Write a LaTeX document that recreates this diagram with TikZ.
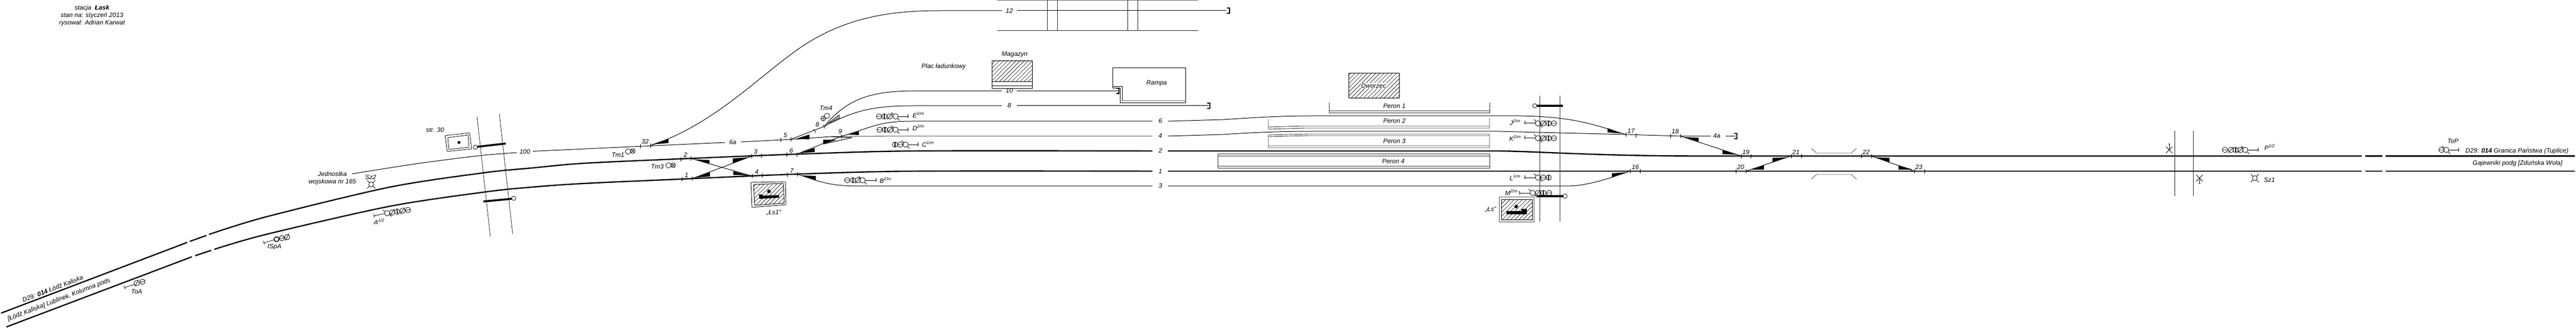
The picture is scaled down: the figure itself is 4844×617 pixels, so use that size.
\documentclass[tikz,border=0pt]{standalone}
\usepackage{fontspec}
\setmainfont{Liberation Sans}
\usetikzlibrary{arrows.meta, patterns.meta}

\tikzset{
  mainline/.style={line width=2.4pt,black},
  sideline/.style={line width=1pt,black},
  greyline/.style={line width=1.4pt,black!55},
  bridge/.style={line width=0.8pt,black!85},
  deck/.style={line width=3.6pt,black},
  switchtick/.style={line width=0.8pt},
  stem/.style={line width=0.8pt,{Bar[width=7pt,length=0pt]}-},
  endstop/.style={line width=1.3pt},
  lbl/.style={font=\fontsize{12}{14}\selectfont\itshape,inner sep=0pt,align=center},
  numlbl/.style={lbl},
  hatched/.style={pattern={Lines[angle=45,distance=5.5pt,line width=0.6pt]}},
  sigplain/.pic={\draw[line width=0.8pt] (0,0) circle (5pt);},
  sigbold/.pic={\draw[line width=1.5pt] (0,0) circle (4.6pt);},
  sigx/.pic={\draw[line width=0.8pt] (0,0) circle (5pt) (-7.5,-7.5) -- (-3.5,-3.5) (3.5,3.5) -- (7.5,7.5);},
  sigslash/.pic={\draw[line width=0.8pt] (0,0) circle (5pt) (-5,5.5) -- (5,-5.5);},
  sigvert/.pic={\draw[line width=0.8pt] (0,0) circle (5pt); \draw[line width=1.6pt] (0,-5) -- (0,5);},
  sighor/.pic={\draw[line width=0.8pt] (0,0) circle (5pt) (-5,0) -- (5,0);},
  sigcross/.pic={\draw[line width=0.8pt] (0,0) circle (4.4pt) (-3.1,-3.1) -- (3.1,3.1) (-3.1,3.1) -- (3.1,-3.1);},
  sigplus/.pic={\draw[line width=0.8pt] (0,0) circle (4.4pt) (-4.4,0) -- (4.4,0) (0,-4.4) -- (0,4.4);},
  sigfour/.pic={\draw[line width=0.8pt] (0,0) circle (4.6pt) (-7.5,-7.5) -- (-3.3,-3.3) (3.3,3.3) -- (7.5,7.5) (-7.5,7.5) -- (-3.3,3.3) (3.3,-3.3) -- (7.5,-7.5);},
}

\begin{document}
\begin{tikzpicture}[x=1pt,y=-1pt]
    \useasboundingbox (0,0) rectangle (4844,617);
    \fill[white] (0,0) rectangle (4844,617);

    % main lines
    \foreach \Xa/\Ya/\Xb/\Yb in {
      2/589/352/456, 357/454/388/443,
      12/615/361/483, 367/481/397/471,
      4448/293.5/4480/293.5, 4486/293.5/4842/293.5,
      4448/322/4480/322, 4486/322/4842/322,
      2196/322/4441/322
    }
    \draw[mainline] (\Xa,\Ya) -- (\Xb,\Yb);
    \draw[mainline] plot[smooth] coordinates {(393,441) (500,408) (733,352) (910,325) (1000,316) (1100,307) (1299,298) (1498,290) (1719,284) (2167,284)};
    \draw[mainline] plot[smooth] coordinates {(403,469) (500,441) (733,388) (913,361) (1000,352) (1100,345) (1301,336) (1499,327.5) (1719,322) (2167,322)};
    \draw[mainline] (2196,284) -- (2818,284) .. controls (2900,285) and (3000,293.5) .. (3200,293.5) -- (4441,293.5);

    % side tracks
    \draw[sideline] plot[smooth] coordinates {(662,327) (783,308) (900,293) (972,287)};
    \draw[sideline] (1002,284.5) -- (1363,268);
    \draw[sideline] (1393,267) -- (1500,261.5) -- (1561,257);
    \draw[greyline] (1561,257) -- (1668,256) -- (2167,256);
    \draw[sideline] (1223,274) .. controls (1340,235) and (1420,150) .. (1500,93) .. controls (1590,30) and (1680,20) .. (1770,20) -- (1884,20);
    \draw[sideline] (1912,20) -- (2306,20);
    \draw[sideline] (1487,262) -- (1549.5,238) .. controls (1610,205) and (1650,199) .. (1720,199) -- (1884,199);
    \draw[sideline] (1912,199) -- (2273,199);
    \draw[sideline] (1549.5,238) .. controls (1590,190) and (1630,171) .. (1719,171);
    \draw[greyline] (1719,171) -- (1884,171) (1912,171) -- (2102,171);
    \draw[sideline] (1498,290) -- (1548,270) -- (1580,257);
    \draw[sideline] (1580,257) .. controls (1640,240) and (1650,228) .. (1715,228) -- (2167,228);
    \draw[sideline] (1548,271) -- (1602,259);
    \draw[sideline] (1562,257) -- (1602,259);
    \draw[sideline] (1499,327.5) -- (1533,339) .. controls (1560,347) and (1580,350) .. (1615,350) -- (2167,350);
    \draw[sideline] (2196,350) -- (2947,350) .. controls (2980,350) and (3020,338) .. (3065,322);
    \draw[sideline] (2196,228) -- (2300,225) .. controls (2360,221) and (2410,218) .. (2466,218) -- (2818,218) .. controls (2950,216) and (2990,232) .. (3057,253);
    \draw[sideline] (2196,256) -- (2300,253) .. controls (2360,249) and (2410,247) .. (2466,247) -- (2818,247) -- (2933,250) -- (3057,253) -- (3160,256);
    \draw[greyline] (3160,256) -- (3217,256) (3245,256) -- (3264,256);
    \draw[sideline] (3160,256) -- (3274,293.5);
    \draw[sideline] (1299,298) -- (1414,331);
    \draw[sideline] (1301,336) -- (1413,294);
    \draw[sideline] (3283,322) -- (3368,293.5);
    \draw[sideline] (3519,293.5) -- (3600,322);

    % track ends
    \foreach \X/\Y in {2310/20, 2273/199, 2102/171, 3264/256}
    \draw[endstop] (\X-3,\Y-5) -- (\X+2,\Y-5) -- (\X+2,\Y+5) -- (\X-3,\Y+5);

    % switch blades
    \foreach \Xa/\Ya/\Xb/\Yb/\Xc/\Yc in {
      1225/272/1257/261/1257/269,
      1308/300/1334/301/1334/308,
      1379/322/1379/329/1407/330,
      1308/334/1335/324/1335/332,
      1378/298/1378/307/1407/296,
      1497/261/1522/253/1522/262,
      1503/288/1532/278/1532/286,
      1548/263/1548/271/1573/263,
      1594/253/1615/247/1615/254,
      1507/330/1534/331/1534/339,
      3023/241/3023/249/3050/251,
      3165/258/3194/259/3194/267,
      3239/282/3239/290/3268/291,
      3031/326/3031/333/3058/324,
      3291/319/3317/311/3317/319,
      3333/297/3333/305/3362/296,
      3526/296/3553/297/3553/305,
      3570/311/3570/319/3597/319
    }
    \fill[black] (\Xa,\Ya) -- (\Xb,\Yb) -- (\Xc,\Yc) -- cycle;
    \draw[line width=0.7pt,pattern={Lines[angle=90,distance=3pt,line width=0.7pt]}] (1557,232) -- (1578,216) -- (1579,223) -- cycle;

    % switch ticks
    \foreach \X/\Y in {
      1204/275, 1223/274, 1280/300, 1299/298, 1282/337, 1301/336,
      1413/294, 1431/293, 1414/331, 1433/330, 1468/263, 1487/262,
      1479/291, 1498/291, 1480/329, 1499/328, 1582/257,
      3057/253, 3076/255, 3141/256, 3160/256, 3065/322, 3084/322,
      3274/294, 3292/294, 3264/322, 3283/322, 3368/294, 3387/294,
      3500/294, 3519/294, 3600/322, 3619/322
    }
    \draw[switchtick] (\X,\Y-4) -- (\X,\Y+4);
    \draw[switchtick] (1530,243) -- (1534,250) (1547.5,234.5) -- (1551.5,241.5);

    % bridges
    \foreach \Xa/\Ya/\Xb/\Yb in {
      897/219/922/445, 939/214/964/440,
      2895/180/2895/417, 2933/180/2933/417,
      4089/246/4089/369, 4124/246/4124/369,
      1969/0/1969/57, 1988/0/1988/57, 2120/0/2120/57, 2139/0/2139/57
    }
    \draw[bridge] (\Xa,\Ya) -- (\Xb,\Yb);
    \draw[line width=1.2pt,black!60] (1875,0.6) -- (2253,0.6);
    \draw[bridge] (1875,57) -- (2253,57);
    \foreach \Xa/\Ya/\Xb/\Yb/\Xc/\Yc in {
      898/276/951/270/894/277,
      909/379/962/374/966/373,
      2890/199/2939/199/2886/199,
      2890/369/2939/369/2943/369
    }{
      \draw[deck] (\Xa,\Ya) -- (\Xb,\Yb);
      \draw[line width=0.8pt,fill=white] (\Xc,\Yc) circle (4pt);
    }

    % buildings
    \draw[line width=0.8pt] (837,255) -- (883,250) -- (887,280) -- (841,285) -- cycle;
    \draw[line width=0.8pt] (842,259) -- (880,254) -- (882,277) -- (844,281) -- cycle;
    \fill (863,268) circle (2.8pt);
    \draw[line width=0.9pt] (1412,343) -- (1477,342) -- (1478,385) -- (1414,390) -- cycle;
    \draw[line width=0.9pt,hatched] (1417,347) -- (1473,345) -- (1475,382) -- (1419,386) -- cycle;
    \fill (1446,360) circle (3.4pt);
    \fill (1427,366) -- (1434,366) -- (1434,368) -- (1465,367) -- (1465,372) -- (1428,374) -- cycle;
    \draw[line width=1pt,black!70] (2819,371) rectangle (2884,417);
    \draw[line width=0.9pt,hatched] (2823,375) rectangle (2881,413);
    \fill (2851,384.5) -- (2855,388.5) -- (2851,392.5) -- (2847,388.5) -- cycle;
    \fill (2833,397) -- (2861,397) -- (2861,393) -- (2871,393) -- (2871,403) -- (2833,403) -- cycle;
    \draw[line width=0.9pt,hatched] (1865,114) rectangle (1941,153);
    \draw[line width=0.9pt] (1865,153) rectangle (1941,166) (1865,161) -- (1941,161);
    \draw[line width=0.9pt] (2092,127) -- (2229,127) -- (2229,193) -- (2106,193) -- (2106,165) -- (2092,165) -- cycle;
    \draw[line width=0.8pt] (2092,162) -- (2110,162) -- (2110,190);
    \draw[line width=1pt,black!60] (2110,190) -- (2229,190);
    \draw[line width=1pt,hatched] (2536,138) rectangle (2631,185);

    % platforms
    \draw[line width=0.9pt,black!80] (2499,193) -- (2499,212) -- (2801,212) -- (2801,193) (2499,208) -- (2801,208);
    \draw[line width=0.9pt,black!80] (2385,224) -- (2385,243) -- (2453,241) -- (2801,241) -- (2801,222) (2385,239) -- (2453,237) -- (2801,237);
    \draw[line width=0.9pt,black!80] (2385,254) -- (2461,252) -- (2801,252) -- (2801,278) -- (2385,278) -- cycle (2385,257) -- (2461,255) -- (2801,255) (2385,274) -- (2801,274);
    \draw[line width=0.9pt,black!80] (2290,289) rectangle (2801,316) (2290,293) -- (2801,293) (2290,312) -- (2801,312);
    \foreach \Ya/\Yb in {279/288, 337/328}
    \draw[line width=0.9pt,black!65] (3406,\Ya) -- (3416,\Yb) -- (3481,\Yb) -- (3491,\Ya);

    % signal stems, stop bar first
    \foreach \Xa/\Ya/\Xb/\Yb in {
      234/541/253/535, 703/406/723/402, 496/457/516/451,
      1648/339/1627/339, 1708/219/1689/219, 1708/244/1689/244,
      1727/272/1708/272, 2867/231/2887/231, 2867/259/2887/259,
      2867/334/2887/334, 2857/363/2877/363, 4246.5/282/4227/282,
      4624/282/4605/282
    }
    \draw[stem] (\Xa,\Ya) -- (\Xb,\Yb);
    \draw[line width=0.8pt] (4079,271) -- (4079,282) (4136,335) -- (4136,345);
    \fill (4079,271) circle (1.2pt) (4136,345) circle (1.2pt);
    \draw[line width=0.8pt] (4073,276) -- (4085,288) (4085,276) -- (4073,288);
    \draw[line width=0.8pt] (4130,329) -- (4142,341) (4142,329) -- (4130,341);

    % signal heads
    \foreach \X/\Y/\Kind/\Rot in {
      257/532.5/sigslash/18, 268/530/sighor/18,
      520/450/sigbold/14, 530/448/sighor/14, 540/446/sigslash/14,
      728/401/sigx/10, 737.5/399.5/sigslash/10, 747/398/sigvert/10, 757/396.5/sigslash/10, 767/395/sighor/10,
      1593/339/sighor/0, 1604/339/sigvert/0, 1613/339/sigslash/0, 1622/339/sigx/0,
      1653/219/sighor/0, 1663/219/sigvert/0, 1673/219/sigslash/0, 1684/219/sigx/0,
      1654/244/sighor/0, 1664/244/sigvert/0, 1674/244/sigslash/0, 1684/244/sigx/0,
      1683/272/sigvert/0, 1693/272/sighor/0, 1703/272/sigx/0,
      2892/232/sigx/0, 2902/232/sigslash/0, 2912/232/sigvert/0, 2922/232/sighor/0,
      2892/260/sigx/0, 2902/260/sigslash/0, 2912/260/sigvert/0, 2922/260/sighor/0,
      2892/334/sigx/0, 2902/334/sighor/0, 2912/334/sigvert/0,
      2882/363/sigx/0, 2892/363/sigslash/0, 2902/363/sigvert/0, 2913/363/sighor/0,
      4184/282/sighor/0, 4195/282/sigslash/0, 4204/282/sigvert/0, 4213/282/sigslash/0, 4222/282/sigx/0,
      4591/282/sighor/0, 4600/282/sigx/0,
      1181/285/sigplain/0, 1190/284/sigcross/0,
      1257/311/sigplain/0, 1266/311/sigcross/0,
      1548/223/sigplus/0, 1555/218/sigplain/0,
      698/347/sigfour/0, 4240/335/sigfour/0
    }
    \pic[rotate=\Rot] at (\X,\Y) {\Kind};

    % track and switch numbers
    \foreach \Point/\PointLabel in {
      (1213,266)/32, (1378,267)/6a, (1289,291)/2, (1291,329)/1, (1421,285)/3,
      (1423,323)/4, (1488,283)/6, (1489,321)/7, (1477,254)/5, (1537,234)/8,
      (1580,247)/9, (3075,314)/16, (3067,246)/17, (3150,247)/18, (3283,286)/19,
      (3273,314)/20, (3377,286)/21, (3509,286)/22, (3610,314)/23
    }
    \node[numlbl] (sw\PointLabel) at \Point {\PointLabel};
    \foreach \Point/\PointLabel in {
      (987,285)/100, (1898,20)/12, (1898,170)/10, (1898,198)/8, (2182,227)/6,
      (2182,255)/4, (2182,283)/2, (2182,322)/1, (2182,349)/3, (3230,255)/4a
    }
    \node[numlbl] (tr\PointLabel) at \Point {\PointLabel};

    % names
    \node[lbl,fill=white,inner sep=1pt] (dworzec) at (2583,161) {Dworzec};
    \node[lbl] (title) at (173,29) {stacja\ \ \textbf{Łask}\\stan na: styczeń 2013\\rysował: Adrian Karwat};
    \node[lbl,rotate=21] (lineleftup) at (99,543) {D29: \textbf{014} Łódź Kaliska};
    \node[lbl,rotate=21] (lineleftdown) at (111,564) {[Łódź Kaliska] Lublinek, Kolumna pods};
    \node[lbl] (lineright) at (4733,284) {D29: \textbf{014} Granica Państwa (Tuplice)};
    \node[lbl] (linerightdown) at (4734,307) {Gajewniki podg [Zduńska Wola]};
    \node[lbl] (jednostka) at (625,335) {Jednostka\\wojskowa nr 165};
    \foreach \Point/\PointLabel/\Name in {
      (257,548)/ToA/toa, (516,465)/ISpA/ispa, (713,417)/{A\textsuperscript{1/2}}/siga, (697,333)/Sz2/szb,
      (818,244)/str. 30/str, (1162,291)/Tm1/tma, (1236,313)/Tm3/tmc, (1553,203)/Tm4/tmd,
      (1455,400)/„Łs1"/lsa, (1774.5,125)/Plac ładunkowy/plac, (1908,103)/Magazyn/magazyn,
      (2175,157)/Rampa/rampa, (1665,339)/{B\textsuperscript{2/m}}/sigb, (1727,216)/{E\textsuperscript{2/m}}/sige,
      (1727,240)/{D\textsuperscript{2/m}}/sigd, (1745,271)/{C\textsuperscript{1/m}}/sigc, (2622,199)/Peron 1/pa,
      (2622,227)/Peron 2/pb, (2622,265)/Peron 3/pc, (2620,303)/Peron 4/pd,
      (2849,230)/{J\textsuperscript{2/m}}/sigj, (2849,260)/{K\textsuperscript{2/m}}/sigk, (2849,334)/{L\textsuperscript{1/m}}/sigl,
      (2842,362)/{M\textsuperscript{2/m}}/sigm, (2803,394)/„Łs"/lsb, (4268,277)/{P\textsuperscript{1/2}}/sigp,
      (4267.5,338)/Sz1/sza, (4612.5,265)/ToP/top
    }
    \node[lbl] (\Name) at \Point {\PointLabel};
\end{tikzpicture}
\end{document}
